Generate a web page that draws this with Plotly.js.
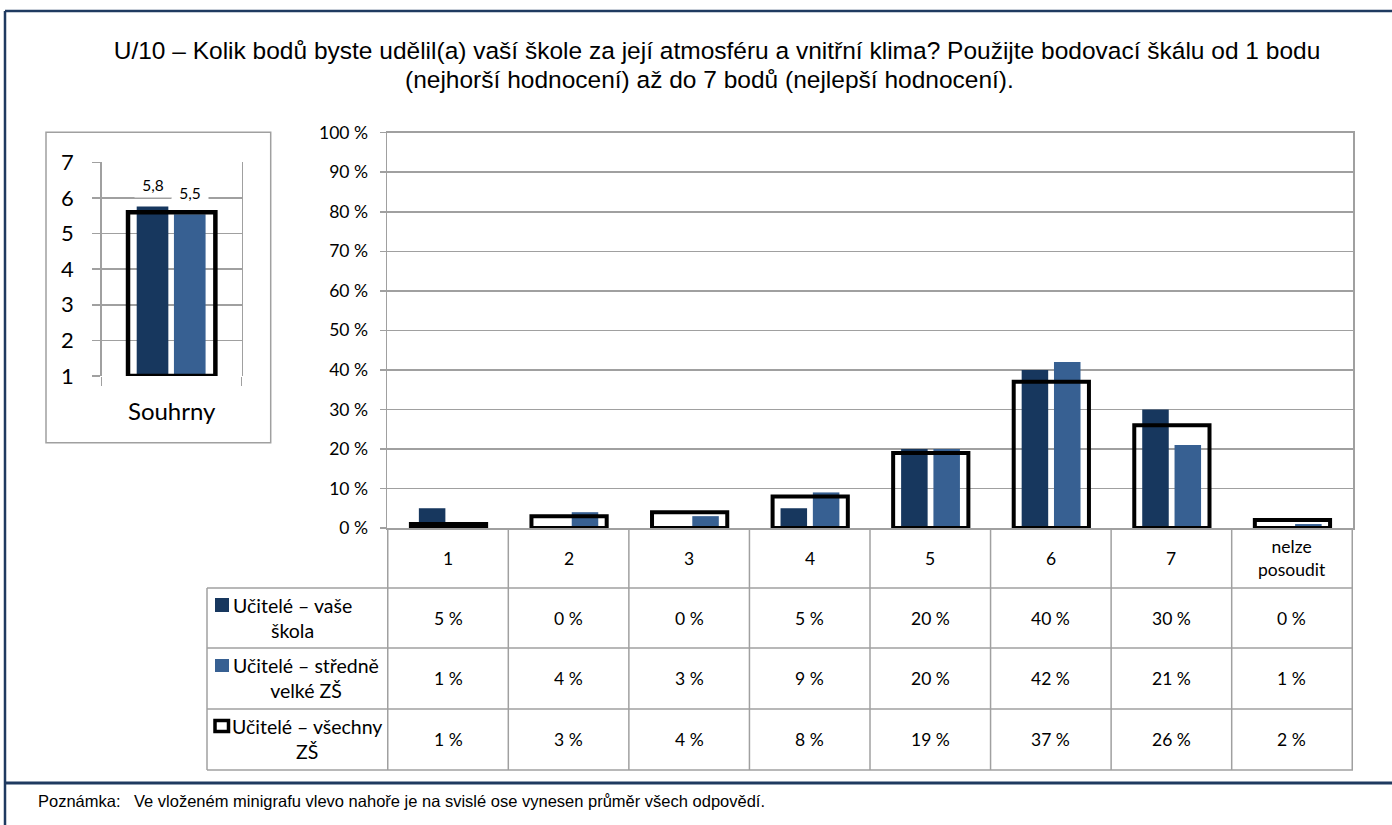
<!DOCTYPE html>
<html>
<head>
<meta charset="utf-8">
<script src="https://cdn.plot.ly/plotly-3.0.1.min.js"></script>
<style>html,body{margin:0;padding:0;background:#fff;}#chart{width:1392px;height:825px;}</style>
</head>
<body>
<div id="chart"></div>
<script>
// ---- data ----
const categories = ['1', '2', '3', '4', '5', '6', '7', 'nelze posoudit'];
const seriesNames = ['Učitelé – vaše škola', 'Učitelé – středně velké ZŠ', 'Učitelé – všechny ZŠ'];
const vaseSkola = [5, 0, 0, 5, 20, 40, 30, 0];
const stredneVelke = [1, 4, 3, 9, 20, 42, 21, 1];
const vsechnyZS = [1, 3, 4, 8, 19, 37, 26, 2];
const miniCategory = ['Souhrny'];
const miniVase = [5.76];
const miniStredne = [5.54];
const miniVsechny = [5.6];
const yTicks = [0, 10, 20, 30, 40, 50, 60, 70, 80, 90, 100];
const miniTicks = [1, 2, 3, 4, 5, 6, 7];
const titleLine1 = 'U/10 – Kolik bodů byste udělil(a) vaší škole za její atmosféru a vnitřní klima? Použijte bodovací škálu od 1 bodu';
const titleLine2 = '(nejhorší hodnocení) až do 7 bodů (nejlepší hodnocení).';
const noteLabel = 'Poznámka:';
const noteText = 'Ve vloženém minigrafu vlevo nahoře je na svislé ose vynesen průměr všech odpovědí.';

// ---- helpers ----
const W = 1392, H = 825;
const X = px => px / W;
const Y = py => 1 - py / H;
const DARK = '#17375E', LIGHT = '#376092', GRID = '#A0A0A0', NAVY = '#1F3A60';
const bodyFont = 'Lato, "Open Sans", sans-serif';
const arial = 'Liberation Sans, Arial, sans-serif';
const fmt = v => v.toFixed(1).replace('.', ',');

const traces = [
  {type: 'bar', x: categories, y: vaseSkola, name: seriesNames[0], xaxis: 'x', yaxis: 'y',
   marker: {color: DARK}, width: 0.22, offset: -0.242, hoverinfo: 'skip'},
  {type: 'bar', x: categories, y: stredneVelke, name: seriesNames[1], xaxis: 'x', yaxis: 'y',
   marker: {color: LIGHT}, width: 0.22, offset: 0.026, hoverinfo: 'skip'},
  {type: 'bar', x: categories, y: vsechnyZS, name: seriesNames[2], xaxis: 'x', yaxis: 'y',
   marker: {color: 'rgba(0,0,0,0)', line: {color: '#000', width: 4}}, width: 0.624, offset: -0.308, hoverinfo: 'skip'},
  {type: 'bar', x: miniCategory, y: miniVase.map(v => v - 1), base: 1, xaxis: 'x2', yaxis: 'y2',
   marker: {color: DARK}, width: 0.226, offset: -0.25, hoverinfo: 'skip'},
  {type: 'bar', x: miniCategory, y: miniStredne.map(v => v - 1), base: 1, xaxis: 'x2', yaxis: 'y2',
   marker: {color: LIGHT}, width: 0.226, offset: 0.016, hoverinfo: 'skip'},
  {type: 'bar', x: miniCategory, y: miniVsechny.map(v => v - 1), base: 1, xaxis: 'x2', yaxis: 'y2',
   marker: {color: 'rgba(0,0,0,0)', line: {color: '#000', width: 4.5}}, width: 0.624, offset: -0.312, hoverinfo: 'skip'}
];

const shapes = [];
const annotations = [];
const line = (x0, y0, x1, y1, color, width, xref, yref) =>
  shapes.push({type: 'line', x0, y0, x1, y1, xref: xref || 'paper', yref: yref || 'paper', line: {color, width}});

// outer frame + separator
line(X(5), Y(11), X(1392), Y(11), NAVY, 2.5);
line(X(5), Y(11), X(5), Y(825), NAVY, 2.5);
line(X(5), Y(783), X(1392), Y(783), NAVY, 3);
// mini chart frame
shapes.push({type: 'rect', xref: 'paper', yref: 'paper', x0: X(46), x1: X(270.7), y0: Y(132.3), y1: Y(442.7),
  line: {color: GRID, width: 1.5}, fillcolor: 'rgba(0,0,0,0)'});

// data table grid
const rowLines = [588, 648, 709, 770];
for (let i = 0; i <= categories.length; i++) {
  line(i - 0.5, Y(528), i - 0.5, Y(770), GRID, 1.5, 'x', 'paper');
}
line(X(207), Y(588), X(207), Y(770), GRID, 1.5);
rowLines.forEach(r => line(X(207), Y(r), X(1353), Y(r), GRID, 1.5));

// header labels
categories.forEach((c, i) => annotations.push({
  xref: 'x', yref: 'paper', x: i, y: Y(558), text: c.replace(' ', '<br>'), showarrow: false,
  font: {family: bodyFont, size: 17.5, color: '#000'}, xanchor: 'center', yanchor: 'middle'
}));
// table values
const rows = [vaseSkola, stredneVelke, vsechnyZS];
const rowCenters = [618, 678, 739];
rows.forEach((arr, r) => arr.forEach((v, i) => annotations.push({
  xref: 'x', yref: 'paper', x: i, y: Y(rowCenters[r]), text: v + ' %', showarrow: false,
  font: {family: bodyFont, size: 17.5, color: '#000'}, xanchor: 'center', yanchor: 'middle'
})));
// row legend labels
const legendLabels = ['Učitelé – vaše<br>škola', 'Učitelé – středně<br>velké ZŠ', 'Učitelé – všechny<br>ZŠ'];
const legendCx = [292, 306, 307];
legendLabels.forEach((t, r) => annotations.push({
  xref: 'paper', yref: 'paper', x: X(legendCx[r]), y: Y(rowCenters[r]), text: t, showarrow: false,
  font: {family: bodyFont, size: 19.5, color: '#000'}, xanchor: 'center', yanchor: 'middle', align: 'center'
}));
// legend keys
shapes.push({type: 'rect', xref: 'paper', yref: 'paper', x0: X(215), x1: X(229), y0: Y(612), y1: Y(598), fillcolor: DARK, line: {width: 0}});
shapes.push({type: 'rect', xref: 'paper', yref: 'paper', x0: X(215), x1: X(229), y0: Y(672), y1: Y(659), fillcolor: LIGHT, line: {width: 0}});
shapes.push({type: 'rect', xref: 'paper', yref: 'paper', x0: X(215), x1: X(228.5), y0: Y(731.5), y1: Y(720.5), fillcolor: '#fff', line: {color: '#000', width: 3.5}});

// mini data labels
[[miniVase[0], -0.137], [miniStredne[0], 0.129]].forEach(([v, dx]) => annotations.push({
  xref: 'x2', yref: 'y2', x: dx, y: v, text: fmt(v), showarrow: false, yshift: 21,
  font: {family: bodyFont, size: 15.5, color: '#000'}, bgcolor: '#fff', width: 34, height: 22,
  xanchor: 'center', yanchor: 'middle'
}));

// second title line
annotations.push({xref: 'paper', yref: 'paper', x: X(709), y: Y(80), text: titleLine2, showarrow: false,
  font: {family: arial, size: 24.5, color: '#000'}, xanchor: 'center', yanchor: 'middle'});

// note
annotations.push({xref: 'paper', yref: 'paper', x: X(36), y: Y(801), text: noteLabel, showarrow: false,
  font: {family: arial, size: 16.5, color: '#000'}, xanchor: 'left', yanchor: 'middle'});
annotations.push({xref: 'paper', yref: 'paper', x: X(132), y: Y(801), text: noteText, showarrow: false,
  font: {family: arial, size: 16.5, color: '#000'}, xanchor: 'left', yanchor: 'middle'});

const layout = {
  width: W, height: H, autosize: false,
  margin: {l: 0, r: 0, t: 0, b: 0, pad: 0},
  paper_bgcolor: '#fff', plot_bgcolor: '#fff',
  showlegend: false, barmode: 'overlay',
  title: {text: titleLine1, x: 717 / W, xanchor: 'center', y: 1 - 50 / H, yanchor: 'middle',
    font: {family: arial, size: 24.5, color: '#000'}},
  xaxis: {domain: [X(387), X(1353)], type: 'category', showticklabels: false, ticks: '',
    showline: true, linecolor: GRID, linewidth: 1.5, mirror: true, showgrid: false, zeroline: false, fixedrange: true},
  yaxis: {domain: [Y(528), Y(132.7)], range: [0, 100], tickvals: yTicks, ticktext: yTicks.map(v => v + ' %'),
    ticks: 'outside', ticklen: 6, tickcolor: GRID, tickwidth: 1.5, ticklabelstandoff: 8,
    showline: true, linecolor: GRID, linewidth: 1.5, mirror: true,
    showgrid: true, gridcolor: GRID, gridwidth: 1.5, zeroline: false,
    tickfont: {family: bodyFont, size: 17.5, color: '#000'}, fixedrange: true},
  xaxis2: {domain: [X(101.7), X(241.7)], anchor: 'y2', type: 'category', ticks: 'outside', tickson: 'boundaries',
    ticklen: 9, tickcolor: GRID, tickwidth: 1.5, showline: false, showgrid: false, zeroline: false,
    tickfont: {family: bodyFont, size: 24, color: '#000'}, ticklabelstandoff: 19, fixedrange: true},
  yaxis2: {domain: [Y(376), Y(162.3)], anchor: 'x2', range: [1, 7], tickvals: miniTicks,
    ticks: 'outside', ticklen: 8, tickcolor: GRID, tickwidth: 1.5, ticklabelstandoff: 14,
    showline: true, linecolor: GRID, linewidth: 1.5, mirror: true,
    showgrid: true, gridcolor: GRID, gridwidth: 1.5, zeroline: false,
    tickfont: {family: bodyFont, size: 22, color: '#000'}, fixedrange: true},
  shapes, annotations
};

Plotly.newPlot('chart', traces, layout, {staticPlot: true, displayModeBar: false});
</script>
</body>
</html>
